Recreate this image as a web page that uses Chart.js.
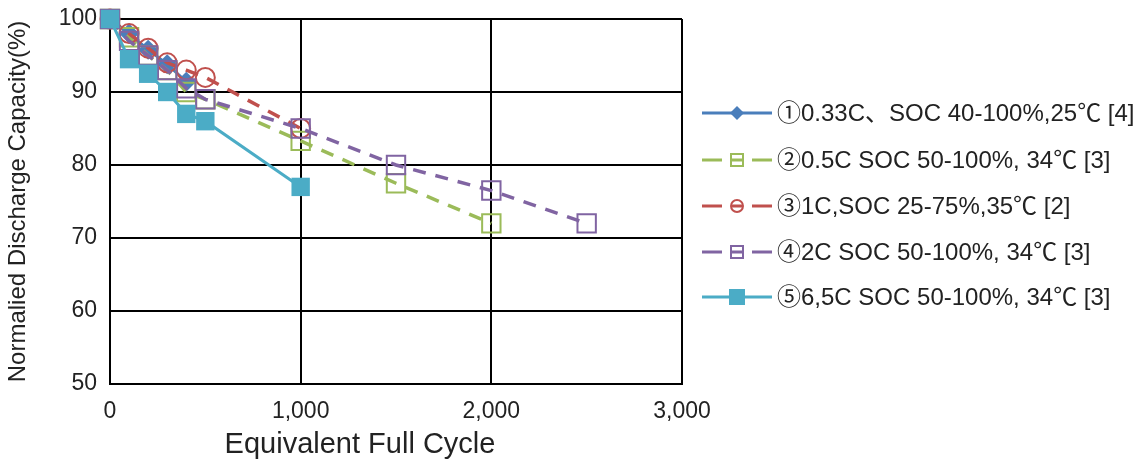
<!DOCTYPE html>
<html>
<head>
<meta charset="utf-8">
<script src="https://cdn.jsdelivr.net/npm/chart.js@4/dist/chart.umd.min.js"></script>
<style>
  body { margin: 0; background: #fff; }
</style>
</head>
<body>
<canvas id="myChart" width="1144" height="464"></canvas>
<script>
  // cycle counts and remaining capacity (%) for each test condition
  var cycles1 = [0, 100, 200, 300, 400];
  var cap1 = [100, 98, 95.8, 93.8, 91.4];

  var cycles2 = [0, 100, 200, 300, 400, 500, 1000, 1500, 2000];
  var cap2 = [100, 97.5, 95, 93, 90, 89, 83.3, 77.5, 72];

  var cycles3 = [0, 100, 200, 300, 400, 500, 1000];
  var cap3 = [100, 98, 96, 94, 93, 92, 85];

  var cycles4 = [0, 100, 200, 300, 400, 500, 1000, 1500, 2000, 2500];
  var cap4 = [100, 97, 95, 93, 90.5, 89, 85, 80, 76.5, 72];

  var cycles5 = [0, 100, 200, 300, 400, 500, 1000];
  var cap5 = [100, 94.5, 92.5, 90, 87, 86, 77];

  var labels = [
    "①0.33C、SOC 40-100%,25℃ [4]",
    "②0.5C SOC 50-100%, 34℃ [3]",
    "③1C,SOC 25-75%,35℃ [2]",
    "④2C SOC 50-100%, 34℃ [3]",
    "⑤6,5C SOC 50-100%, 34℃ [3]"
  ];

  var xTicks = [0, 1000, 2000, 3000];
  var yTicks = [50, 60, 70, 80, 90, 100];

  var FONT = "'Liberation Sans', Arial, 'Noto Sans CJK JP', sans-serif";

  function pairs(xs, ys) {
    return xs.map((x, i) => ({ x: x, y: ys[i] }));
  }

  // legend drawn by hand: line - marker - line, like the spreadsheet legend
  var sideLegend = {
    id: 'sideLegend',
    afterDraw(chart) {
      var ctx = chart.ctx;
      var rows = [113, 160, 206, 252, 297];
      chart.data.datasets.forEach((ds, i) => {
        var y = rows[i];
        ctx.save();
        ctx.strokeStyle = ds.borderColor;
        ctx.lineWidth = 3;
        ctx.setLineDash([]);
        ctx.beginPath();
        if (ds.borderDash) {
          ctx.moveTo(702, y); ctx.lineTo(722, y);
          ctx.moveTo(752, y); ctx.lineTo(772, y);
          ctx.moveTo(731, y); ctx.lineTo(743, y);
        } else {
          ctx.moveTo(702, y); ctx.lineTo(772, y);
        }
        ctx.stroke();

        var cx = 737;
        ctx.lineWidth = 2;
        ctx.beginPath();
        if (ds.pointStyle === 'rectRot') {
          ctx.fillStyle = ds.borderColor;
          ctx.moveTo(cx, y - 7); ctx.lineTo(cx + 7, y); ctx.lineTo(cx, y + 7); ctx.lineTo(cx - 7, y);
          ctx.closePath();
          ctx.fill();
        } else if (ds.pointStyle === 'circle') {
          ctx.arc(cx, y, 6, 0, Math.PI * 2);
          ctx.stroke();
        } else if (ds.pointBackgroundColor === 'rgba(0,0,0,0)') {
          ctx.rect(cx - 6, y - 6, 12, 12);
          ctx.stroke();
        } else {
          ctx.fillStyle = ds.borderColor;
          ctx.rect(cx - 8, y - 8, 16, 16);
          ctx.fill();
        }

        ctx.fillStyle = '#222';
        ctx.font = '24px ' + FONT;
        ctx.textBaseline = 'middle';
        ctx.fillText(labels[i], 777, y + 1);
        ctx.restore();
      });

      // x axis title sits a bit left of the plot centre
      ctx.save();
      ctx.fillStyle = '#222';
      ctx.font = '29px ' + FONT;
      ctx.textAlign = 'center';
      ctx.textBaseline = 'middle';
      ctx.fillText('Equivalent Full Cycle', 360, 445);
      ctx.restore();
    }
  };

  var ctx = document.getElementById('myChart').getContext('2d');
  this.chart = new Chart(ctx, {
    type: 'line',
    data: {
      datasets: [
        {
          label: labels[0],
          data: pairs(cycles1, cap1),
          borderColor: '#4a7ebb',
          backgroundColor: '#4a7ebb',
          borderWidth: 3,
          pointStyle: 'rectRot',
          pointRadius: 10,
          pointBackgroundColor: '#4a7ebb',
          pointBorderWidth: 0,
          clip: false,
          order: 5
        },
        {
          label: labels[1],
          data: pairs(cycles2, cap2),
          borderColor: '#9bbb59',
          borderWidth: 3.5,
          borderDash: [13, 10],
          pointStyle: 'rect',
          pointRadius: 13,
          pointBackgroundColor: 'rgba(0,0,0,0)',
          pointBorderWidth: 2,
          clip: false,
          order: 4
        },
        {
          label: labels[2],
          data: pairs(cycles3, cap3),
          borderColor: '#c0504d',
          borderWidth: 3.5,
          borderDash: [13, 10],
          pointStyle: 'circle',
          pointRadius: 9.5,
          pointBackgroundColor: 'rgba(0,0,0,0)',
          pointBorderWidth: 2,
          clip: false,
          order: 3
        },
        {
          label: labels[3],
          data: pairs(cycles4, cap4),
          borderColor: '#8064a2',
          borderWidth: 3.5,
          borderDash: [13, 10],
          pointStyle: 'rect',
          pointRadius: 13,
          pointBackgroundColor: 'rgba(0,0,0,0)',
          pointBorderWidth: 2,
          clip: false,
          order: 2
        },
        {
          label: labels[4],
          data: pairs(cycles5, cap5),
          borderColor: '#4bacc6',
          backgroundColor: '#4bacc6',
          borderWidth: 3,
          pointStyle: 'rect',
          pointRadius: 13,
          pointBackgroundColor: '#4bacc6',
          pointBorderWidth: 0,
          clip: false,
          order: 1
        }
      ]
    },
    options: {
      responsive: false,
      animation: false,
      layout: { padding: { left: 0, right: 462, top: 19, bottom: 0 } },
      plugins: {
        legend: { display: false },
        tooltip: { enabled: false }
      },
      scales: {
        x: {
          type: 'linear',
          min: 0,
          max: 3000,
          afterBuildTicks: s => { s.ticks = xTicks.map(v => ({ value: v })); },
          afterFit: s => { s.height = 80; s.paddingLeft = 0; s.paddingRight = 0; },
          ticks: {
            color: '#222',
            font: { family: FONT, size: 23 },
            padding: 14,
            maxRotation: 0,
            callback: v => v.toLocaleString('en-US')
          },
          grid: { color: '#000', lineWidth: 2, drawTicks: false },
          border: { color: '#000', width: 2 }
        },
        y: {
          min: 50,
          max: 100,
          afterBuildTicks: s => { s.ticks = yTicks.map(v => ({ value: v })); },
          afterFit: s => { s.width = 110; s.paddingTop = 0; s.paddingBottom = 0; },
          ticks: {
            color: '#222',
            font: { family: FONT, size: 23 },
            padding: 13
          },
          grid: { color: '#000', lineWidth: 2, drawTicks: false },
          border: { color: '#000', width: 2 },
          title: {
            display: true,
            text: 'Normalied Discharge Capacity(%)',
            color: '#222',
            font: { family: FONT, size: 24 },
            padding: { top: 4, bottom: 4 }
          }
        }
      }
    },
    plugins: [sideLegend]
  });
</script>
</body>
</html>
